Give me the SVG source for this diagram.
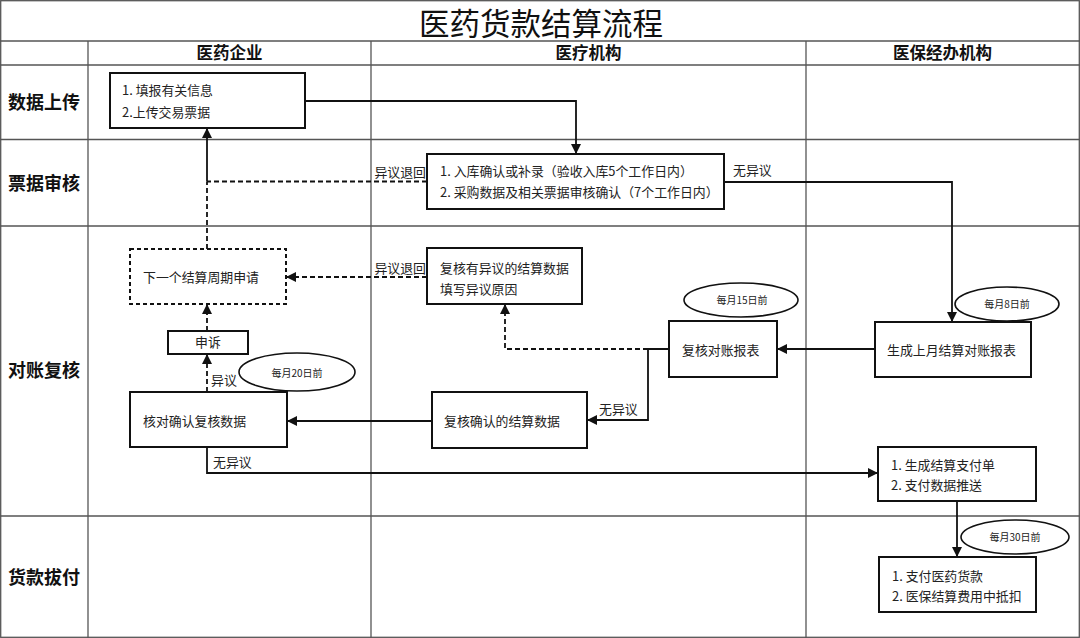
<svg xmlns="http://www.w3.org/2000/svg" width="1080" height="638" viewBox="0 0 1080 638">
<style>
.grid{stroke:#555;stroke-width:1.3;fill:none}
.box{fill:#fff;stroke:#111;stroke-width:2}
.dbox{fill:#fff;stroke:#111;stroke-width:2;stroke-dasharray:4 3}
.ell{fill:#fff;stroke:#111;stroke-width:1.6}
.t{font-family:"Noto Sans CJK SC","Microsoft YaHei",sans-serif;font-size:12.9px;fill:#222}
.e{font-family:"Noto Sans CJK SC",sans-serif;font-size:10px;fill:#222;text-anchor:middle}
.h{font-family:"Noto Sans CJK SC",sans-serif;font-size:16.5px;font-weight:bold;fill:#111;text-anchor:middle}
.r{font-family:"Noto Sans CJK SC",sans-serif;font-size:18px;font-weight:bold;fill:#111;text-anchor:middle}
.title{font-family:"Noto Sans CJK SC",sans-serif;font-size:30.5px;fill:#111;text-anchor:middle}
.c{fill:none;stroke:#111;stroke-width:1.8}
.cd{fill:none;stroke:#111;stroke-width:1.8;stroke-dasharray:5 3}
</style>
<defs>
<marker id="arr" markerUnits="userSpaceOnUse" markerWidth="11" markerHeight="10" refX="10" refY="5" orient="auto" viewBox="0 0 11 10">
<path d="M0,0 L10,5 L0,10 z" fill="#111"/>
</marker>
</defs>
<rect width="1080" height="638" fill="#fff"/>
<g id="grid">
<rect class="grid" x="0.7" y="0.7" width="1078.6" height="636.6"/>
<line class="grid" x1="0" y1="41" x2="1080" y2="41"/>
<line class="grid" x1="0" y1="65" x2="1080" y2="65"/>
<line class="grid" x1="0" y1="139.5" x2="1080" y2="139.5"/>
<line class="grid" x1="0" y1="226" x2="1080" y2="226"/>
<line class="grid" x1="0" y1="516" x2="1080" y2="516"/>
<line class="grid" x1="88" y1="41" x2="88" y2="638"/>
<line class="grid" x1="371" y1="41" x2="371" y2="638"/>
<line class="grid" x1="806" y1="41" x2="806" y2="638"/>
<text class="title" x="541" y="35">医药货款结算流程</text>
<text class="h" x="229.5" y="59">医药企业</text>
<text class="h" x="588.5" y="59">医疗机构</text>
<text class="h" x="942.5" y="59">医保经办机构</text>
<text class="r" x="44" y="108.5">数据上传</text>
<text class="r" x="44" y="189.5">票据审核</text>
<text class="r" x="44" y="376.5">对账复核</text>
<text class="r" x="44" y="583.5">货款拔付</text>
</g>
<g id="connectors">
<path class="c" d="M305,101 H576 V154" marker-end="url(#arr)"/>
<path class="cd" d="M427,181.5 H207"/>
<path class="cd" d="M207,249 V181.5"/>
<path class="c" d="M207,181.5 V128" marker-end="url(#arr)"/>
<text class="t" x="426" y="177" text-anchor="end">异议退回</text>
<path class="c" d="M724,182 H952 V322" marker-end="url(#arr)"/>
<text class="t" x="733" y="175">无异议</text>
<path class="c" d="M875,349 H777" marker-end="url(#arr)"/>
<path class="c" d="M669,349 H648 V420 H587" marker-end="url(#arr)"/>
<path class="cd" d="M648,349 H505 V304" marker-end="url(#arr)"/>
<text class="t" x="599" y="414">无异议</text>
<path class="cd" d="M427,277 H286" marker-end="url(#arr)"/>
<text class="t" x="426" y="273" text-anchor="end">异议退回</text>
<path class="c" d="M432,421 H287" marker-end="url(#arr)"/>
<path class="cd" d="M207,392 V354" marker-end="url(#arr)"/>
<text class="t" x="211" y="385">异议</text>
<path class="cd" d="M207,331 V304" marker-end="url(#arr)"/>
<path class="c" d="M207,447 V473 H878" marker-end="url(#arr)"/>
<text class="t" x="213" y="467">无异议</text>
<path class="c" d="M957,501 V557" marker-end="url(#arr)"/>
</g>
<g id="upload">
<rect class="box" x="110" y="73" width="195" height="55"/>
<text class="t" x="122" y="95">1. 填报有关信息</text>
<text class="t" x="122" y="117">2.上传交易票据</text>
</g>
<g id="audit">
<rect class="box" x="427" y="154" width="297" height="55"/>
<text class="t" x="440" y="176">1. 入库确认或补录（验收入库5个工作日内）</text>
<text class="t" x="440" y="197">2. 采购数据及相关票据审核确认（7个工作日内）</text>
</g>
<g id="nextcycle">
<rect class="dbox" x="130" y="249" width="156" height="55"/>
<text class="t" x="143" y="282">下一个结算周期申请</text>
</g>
<g id="dispute">
<rect class="box" x="427" y="248" width="155" height="56"/>
<text class="t" x="440" y="272.5">复核有异议的结算数据</text>
<text class="t" x="440" y="293.5">填写异议原因</text>
</g>
<g id="appeal">
<rect class="box" x="168" y="331" width="80" height="23"/>
<text class="t" x="208" y="347" text-anchor="middle">申诉</text>
</g>
<g id="d20">
<ellipse class="ell" cx="297" cy="372" rx="58" ry="19"/>
<text class="e" x="297" y="376.5">每月20日前</text>
</g>
<g id="checkconfirm">
<rect class="box" x="130" y="392" width="157" height="55"/>
<text class="t" x="143" y="425.5">核对确认复核数据</text>
</g>
<g id="confirmed">
<rect class="box" x="432" y="392" width="155" height="56"/>
<text class="t" x="444" y="425.5">复核确认的结算数据</text>
</g>
<g id="review">
<rect class="box" x="669" y="321" width="108" height="56"/>
<text class="t" x="682" y="354.5">复核对账报表</text>
</g>
<g id="d15">
<ellipse class="ell" cx="741" cy="300" rx="57" ry="17"/>
<text class="e" x="742" y="304">每月15日前</text>
</g>
<g id="generate">
<rect class="box" x="875" y="322" width="156" height="55"/>
<text class="t" x="887" y="354.5">生成上月结算对账报表</text>
</g>
<g id="d8">
<ellipse class="ell" cx="1007" cy="304" rx="52" ry="17"/>
<text class="e" x="1007" y="308">每月8日前</text>
</g>
<g id="payorder">
<rect class="box" x="878" y="447" width="158" height="54"/>
<text class="t" x="891" y="469.5">1. 生成结算支付单</text>
<text class="t" x="891" y="490">2. 支付数据推送</text>
</g>
<g id="d30">
<ellipse class="ell" cx="1015" cy="537" rx="54" ry="17"/>
<text class="e" x="1015" y="541">每月30日前</text>
</g>
<g id="payment">
<rect class="box" x="879" y="557" width="157" height="55"/>
<text class="t" x="892" y="580.5">1. 支付医药货款</text>
<text class="t" x="892" y="601">2. 医保结算费用中抵扣</text>
</g>
</svg>
